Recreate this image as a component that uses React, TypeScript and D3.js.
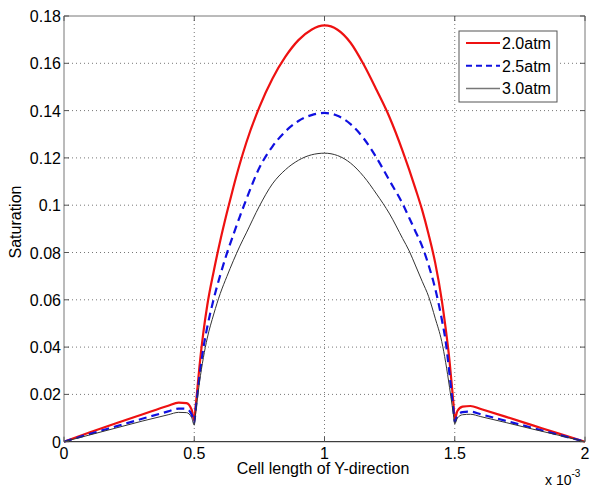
import React from "react";
import * as d3 from "d3";

// cell length positions (x 10^-3)
const xs = [
  0, 0.1, 0.2, 0.3, 0.4, 0.44, 0.47, 0.49, 0.5,
  0.505, 0.51, 0.52, 0.535, 0.55, 0.575, 0.6, 0.625, 0.65, 0.675, 0.7, 0.75, 0.8, 0.85, 0.9, 0.95, 1.0,
  1.05, 1.1, 1.15, 1.2, 1.25, 1.3, 1.325, 1.35, 1.375, 1.4, 1.425, 1.45, 1.465, 1.48, 1.49, 1.495, 1.5,
  1.51, 1.53, 1.56, 1.6, 1.7, 1.8, 1.9, 2.0,
];

const sat20 = [
  0, 0.004, 0.0078, 0.0115, 0.0152, 0.0165, 0.0163, 0.0135, 0.009,
  0.0145, 0.02, 0.0318, 0.0462, 0.0577, 0.0722, 0.0851, 0.0967, 0.1075, 0.1175, 0.1265, 0.1415, 0.1535, 0.1628, 0.1698, 0.1742, 0.176,
  0.1742, 0.1687, 0.1596, 0.1487, 0.1371, 0.1229, 0.115, 0.1067, 0.0979, 0.0875, 0.0756, 0.06, 0.048, 0.0341, 0.0223, 0.0161, 0.0095,
  0.013, 0.0148, 0.0151, 0.0138, 0.0104, 0.0069, 0.0034, 0,
];

const sat25 = [
  0, 0.0033, 0.0065, 0.0097, 0.0128, 0.014, 0.0139, 0.0115, 0.008,
  0.013, 0.018, 0.0276, 0.0395, 0.0485, 0.0605, 0.0705, 0.0795, 0.0875, 0.0952, 0.1025, 0.1158, 0.1248, 0.1312, 0.1356, 0.1381, 0.139,
  0.1378, 0.1343, 0.1283, 0.12, 0.1103, 0.1006, 0.0947, 0.0887, 0.0826, 0.0745, 0.0647, 0.0519, 0.0425, 0.0284, 0.0181, 0.0133, 0.0085,
  0.011, 0.0125, 0.0127, 0.0116, 0.0087, 0.0058, 0.0029, 0,
];

const sat30 = [
  0, 0.0029, 0.0058, 0.0087, 0.0114, 0.0124, 0.0123, 0.0102, 0.007,
  0.0117, 0.0163, 0.025, 0.0355, 0.0438, 0.054, 0.0627, 0.0698, 0.0765, 0.0827, 0.0883, 0.0996, 0.109, 0.115, 0.119, 0.1213, 0.122,
  0.121, 0.1178, 0.1122, 0.1047, 0.0963, 0.0859, 0.0807, 0.0743, 0.0678, 0.0613, 0.0522, 0.0424, 0.0336, 0.0229, 0.0153, 0.0114, 0.0075,
  0.01, 0.0114, 0.0116, 0.0106, 0.008, 0.0053, 0.0027, 0,
];

const seriesNames = ["2.0atm", "2.5atm", "3.0atm"];
const xTicks = [0, 0.5, 1, 1.5, 2];
const yTicks = [0, 0.02, 0.04, 0.06, 0.08, 0.1, 0.12, 0.14, 0.16, 0.18];

const styles = [
  { color: "#ee1111", width: 2.2, dash: "" },
  { color: "#1010e0", width: 2.2, dash: "8,5" },
  { color: "#333333", width: 1, dash: "" },
];

const App = () => {
  const width = 590;
  const height = 490;
  const left = 64;
  const right = 585;
  const top = 16;
  const bottom = 441.7;
  const font = "Arial, 'Liberation Sans', sans-serif";

  const xScale = d3.scaleLinear().domain([0, 2]).range([left, right]);
  const yScale = d3.scaleLinear().domain([0, 0.18]).range([bottom, top]);

  const line = d3
    .line<number>()
    .x((d, i) => xScale(xs[i]))
    .y((d) => yScale(d))
    .curve(d3.curveMonotoneX);

  const series = [sat20, sat25, sat30];

  return (
    <svg
      width={width}
      height={height}
      style={{ position: "absolute", left: 0, top: 0, background: "#fff" }}
      fontFamily={font}
    >
      <rect x={0} y={0} width={width} height={height} fill="#fff" />
      {/* grid */}
      <g stroke="#777" strokeWidth={1} strokeDasharray="1,3">
        {xTicks.slice(1, -1).map((t) => (
          <line key={t} x1={xScale(t)} x2={xScale(t)} y1={top} y2={bottom} />
        ))}
        {yTicks.slice(1, -1).map((t) => (
          <line key={t} x1={left} x2={right} y1={yScale(t)} y2={yScale(t)} />
        ))}
      </g>
      {/* curves */}
      {series.map((s, i) => (
        <path
          key={i}
          d={line(s) || ""}
          fill="none"
          stroke={styles[i].color}
          strokeWidth={styles[i].width}
          strokeDasharray={styles[i].dash}
        />
      ))}
      {/* box */}
      <line x1={left} x2={right} y1={top} y2={top} stroke="#777" />
      <line x1={right} x2={right} y1={top} y2={bottom} stroke="#777" />
      <line x1={left} x2={left} y1={top} y2={bottom} stroke="#777" />
      <line x1={left} x2={right} y1={bottom} y2={bottom} stroke="#111" />
      {/* ticks */}
      <g stroke="#555">
        {xTicks.map((t) => (
          <g key={t}>
            <line x1={xScale(t)} x2={xScale(t)} y1={bottom} y2={bottom - 5} />
            <line x1={xScale(t)} x2={xScale(t)} y1={top} y2={top + 5} />
          </g>
        ))}
        {yTicks.map((t) => (
          <g key={t}>
            <line x1={left} x2={left + 5} y1={yScale(t)} y2={yScale(t)} />
            <line x1={right} x2={right - 5} y1={yScale(t)} y2={yScale(t)} />
          </g>
        ))}
      </g>
      {/* tick labels */}
      <g fontSize={16} fill="#000">
        {xTicks.map((t) => (
          <text key={t} x={xScale(t)} y={bottom + 17} textAnchor="middle">
            {String(t)}
          </text>
        ))}
        {yTicks.map((t) => (
          <text key={t} x={left - 3} y={yScale(t) + 6} textAnchor="end">
            {String(t)}
          </text>
        ))}
      </g>
      <text x={323} y={474} fontSize={16} textAnchor="middle">
        Cell length of Y-direction
      </text>
      <text x={545} y={485} fontSize={14}>
        x 10
        <tspan dy={-8} fontSize={10}>
          -3
        </tspan>
      </text>
      <text
        transform={`translate(21,222) rotate(-90)`}
        fontSize={16}
        textAnchor="middle"
      >
        Saturation
      </text>
      {/* legend */}
      <g>
        <rect x={459} y={31} width={98} height={71} fill="#fff" stroke="#555" />
        {seriesNames.map((name, i) => {
          const y = 43 + i * 22.7;
          return (
            <g key={name}>
              <line
                x1={466}
                x2={500}
                y1={y}
                y2={y}
                stroke={i === 2 ? "#777" : styles[i].color}
                strokeWidth={i === 2 ? 1.5 : 2}
                strokeDasharray={i === 1 ? "6,4" : ""}
              />
              <text x={502} y={y + 6} fontSize={16}>
                {name}
              </text>
            </g>
          );
        })}
      </g>
    </svg>
  );
};

export default App;
